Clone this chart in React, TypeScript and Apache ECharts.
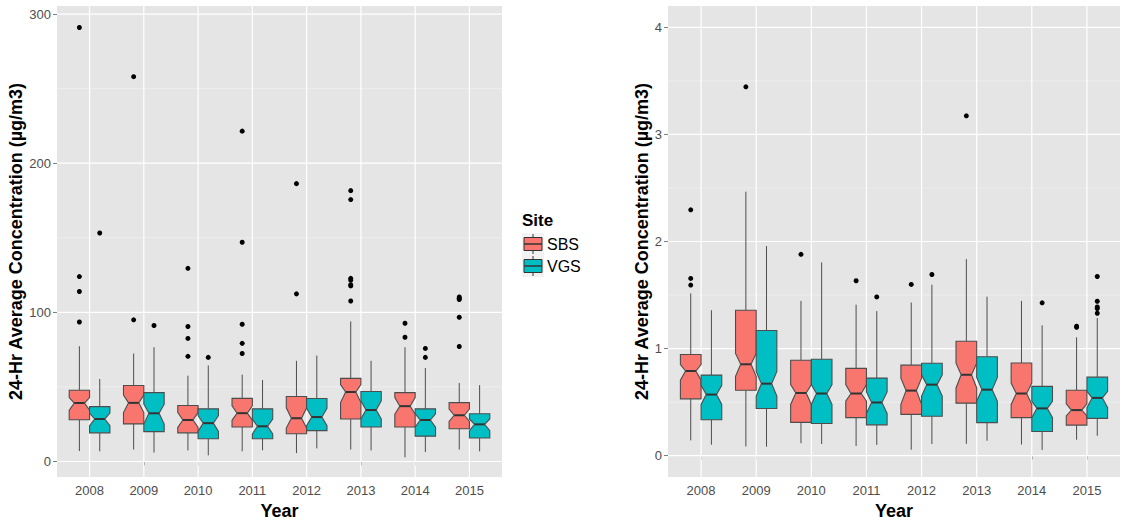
import React, { useEffect, useRef } from "react";
import * as echarts from "echarts";

// ---------- data ----------
const years = ["2008", "2009", "2010", "2011", "2012", "2013", "2014", "2015"];
const sites = ["SBS", "VGS"];
const siteColors = ["#F8766D", "#00BFC4"];

// box stats per year: [lowWhisker, q1, notchLow, median, notchHigh, q3, highWhisker]
const leftSBS = [
  [7, 28, 34.4, 39.2, 42.8, 47.8, 77.3],
  [8, 25.2, 32.8, 39.3, 44.5, 51, 72.4],
  [7.4, 19.2, 22.9, 27.8, 33, 37.5, 57.5],
  [6.8, 23.1, 27.7, 32.4, 37.3, 42.3, 58.2],
  [5.6, 18.6, 22.4, 29, 36, 43.6, 67.5],
  [8, 28.5, 39.5, 46.6, 51.5, 55.7, 93.9],
  [2.8, 23.1, 31.8, 37.1, 42.9, 46.2, 76.6],
  [8, 22, 26.8, 31, 35.2, 39.5, 52.6],
];
const leftVGS = [
  [6.8, 19.2, 24, 28.5, 32.5, 36.8, 55.3],
  [6, 20, 25.1, 32.3, 38.4, 46.2, 76.6],
  [4.1, 15.2, 20.2, 25.7, 30.7, 35.3, 64.4],
  [7.5, 15.2, 18.5, 23.6, 28.4, 35.3, 54.6],
  [8.8, 20.7, 24, 29.8, 35.7, 42.2, 71],
  [7.4, 23.1, 28.5, 34.5, 40.7, 46.9, 67.5],
  [6.3, 17, 23, 27.8, 32, 35.3, 62.7],
  [6.8, 15.7, 20.7, 24.9, 28.5, 32, 51.2],
];
// outliers: [yearIndex, value]
const leftSBSOut = [
  [0, 291], [0, 124], [0, 114], [0, 93.5],
  [1, 258], [1, 95],
  [2, 129.5], [2, 90.5], [2, 82.5], [2, 70.5],
  [3, 221.5], [3, 147], [3, 92], [3, 79.2], [3, 72.4],
  [4, 186.3], [4, 112.4],
  [5, 181.6], [5, 175.6], [5, 122.8], [5, 121.6], [5, 118.5], [5, 117.7], [5, 107.6],
  [6, 92.7], [6, 83.3],
  [7, 110.3], [7, 109.4], [7, 108.6], [7, 96.7], [7, 77.1],
];
const leftVGSOut = [
  [0, 153.2], [1, 91.2], [2, 69.8], [6, 75.8], [6, 69.8],
];

const rightSBS = [
  [0.142, 0.53, 0.705, 0.79, 0.85, 0.945, 1.515],
  [0.085, 0.61, 0.74, 0.853, 0.955, 1.358, 2.465],
  [0.115, 0.31, 0.478, 0.585, 0.663, 0.89, 1.445],
  [0.09, 0.355, 0.508, 0.58, 0.663, 0.815, 1.41],
  [0.055, 0.385, 0.478, 0.607, 0.724, 0.845, 1.43],
  [0.11, 0.49, 0.632, 0.755, 0.863, 1.068, 1.835],
  [0.103, 0.355, 0.478, 0.58, 0.678, 0.865, 1.445],
  [0.148, 0.285, 0.37, 0.425, 0.484, 0.61, 1.105],
];
const rightVGS = [
  [0.102, 0.335, 0.478, 0.57, 0.656, 0.752, 1.358],
  [0.083, 0.44, 0.555, 0.672, 0.786, 1.168, 1.957],
  [0.108, 0.3, 0.478, 0.58, 0.663, 0.9, 1.805],
  [0.1, 0.287, 0.394, 0.496, 0.595, 0.724, 1.35],
  [0.108, 0.367, 0.555, 0.663, 0.755, 0.863, 1.596],
  [0.139, 0.308, 0.508, 0.616, 0.73, 0.924, 1.485],
  [0.052, 0.225, 0.354, 0.441, 0.508, 0.647, 1.217],
  [0.185, 0.348, 0.447, 0.539, 0.601, 0.733, 1.285],
];
const rightSBSOut = [
  [0, 2.296], [0, 1.655], [0, 1.593],
  [1, 3.445],
  [2, 1.88],
  [3, 1.633],
  [4, 1.599],
  [5, 3.174],
  [7, 1.208], [7, 1.199],
];
const rightVGSOut = [
  [3, 1.482],
  [4, 1.692],
  [6, 1.427],
  [7, 1.673], [7, 1.442], [7, 1.388], [7, 1.374], [7, 1.33],
];

// axis ticks
const leftYMajor = [0, 100, 200, 300];
const leftYMinor = [50, 150, 250];
const rightYMajor = [0, 1, 2, 3, 4];
const rightYMinor = [0.5, 1.5, 2.5, 3.5];
const leftYRange = [-10.4, 305.4];
const rightYRange = [-0.2, 4.2];

const yTitle = "24-Hr Average Concentration (µg/m3)";
const FONT = "Liberation Sans, Arial, Helvetica, sans-serif";

// ---------- helpers ----------
const xPositions = years.map((_, i) => i + 1);
const BOX_W = 0.375; // each dodged box width in category units
const OUTLINE = "#4D4D4D";

function gridData(yMajor: number[], yMinor: number[]) {
  return [
    ...yMinor.map((v) => [1, v, 1]),
    ...yMajor.map((v) => [1, v, 0]),
    ...xPositions.map((x) => [x, 0, 2]),
  ];
}

function gridRender(params: any, api: any) {
  const cs = params.coordSys;
  const kind = api.value(2);
  if (kind === 2) {
    const px = api.coord([api.value(0), 0])[0];
    return {
      type: "line",
      shape: { x1: px, y1: cs.y, x2: px, y2: cs.y + cs.height },
      style: { stroke: "#FFFFFF", lineWidth: 1.2 },
      silent: true,
    };
  }
  const py = api.coord([1, api.value(1)])[1];
  return {
    type: "line",
    shape: { x1: cs.x, y1: py, x2: cs.x + cs.width, y2: py },
    style: kind === 0 ? { stroke: "#FFFFFF", lineWidth: 1.2 } : { stroke: "#F2F2F2", lineWidth: 0.7 },
    silent: true,
  };
}

function boxRender(sign: number, fill: string) {
  return (params: any, api: any) => {
    const x = api.value(0);
    const unit = api.size([1, 0])[0];
    const cx = api.coord([x, 0])[0] + (sign * unit * BOX_W) / 2;
    const hw = (unit * BOX_W) / 2;
    const y = (i: number) => api.coord([x, api.value(i)])[1];
    const yl = y(1), yq1 = y(2), ynl = y(3), ym = y(4), ynh = y(5), yq3 = y(6), yh = y(7);
    return {
      type: "group",
      children: [
        { type: "line", shape: { x1: cx, y1: yq3, x2: cx, y2: yh }, style: { stroke: OUTLINE, lineWidth: 1 } },
        { type: "line", shape: { x1: cx, y1: yq1, x2: cx, y2: yl }, style: { stroke: OUTLINE, lineWidth: 1 } },
        {
          type: "polygon",
          shape: {
            points: [
              [cx - hw, yq3], [cx + hw, yq3], [cx + hw, ynh], [cx + hw / 2, ym], [cx + hw, ynl],
              [cx + hw, yq1], [cx - hw, yq1], [cx - hw, ynl], [cx - hw / 2, ym], [cx - hw, ynh],
            ],
          },
          style: { fill, stroke: OUTLINE, lineWidth: 1.1 },
        },
        { type: "line", shape: { x1: cx - hw / 2, y1: ym, x2: cx + hw / 2, y2: ym }, style: { stroke: "#333333", lineWidth: 2 } },
      ],
    };
  };
}

function outRender(sign: number) {
  return (params: any, api: any) => {
    const x = api.value(0);
    const unit = api.size([1, 0])[0];
    const p = api.coord([x, api.value(1)]);
    return {
      type: "circle",
      shape: { cx: p[0] + (sign * unit * BOX_W) / 2, cy: p[1], r: 2.5 },
      style: { fill: "#000000" },
    };
  };
}

function panelSeries(gi: number, yMajor: number[], yMinor: number[], boxes: number[][][], outs: number[][][]) {
  const list: any[] = [
    {
      type: "custom",
      xAxisIndex: gi,
      yAxisIndex: gi,
      renderItem: gridRender,
      data: gridData(yMajor, yMinor),
      encode: { x: 0, y: 1 },
      z: 1,
      silent: true,
    },
  ];
  boxes.forEach((b, si) => {
    const sign = si === 0 ? -1 : 1;
    list.push({
      type: "custom",
      name: sites[si],
      xAxisIndex: gi,
      yAxisIndex: gi,
      renderItem: boxRender(sign, siteColors[si]),
      data: b.map((row, i) => [i + 1, ...row]),
      encode: { x: 0, y: [1, 2, 3, 4, 5, 6, 7] },
      z: 3,
    });
    list.push({
      type: "custom",
      xAxisIndex: gi,
      yAxisIndex: gi,
      renderItem: outRender(sign),
      data: outs[si].map((o) => [o[0] + 1, o[1]]),
      encode: { x: 0, y: 1 },
      z: 4,
    });
  });
  return list;
}

function xAxisCfg(gi: number) {
  return {
    type: "value",
    gridIndex: gi,
    min: 0.4,
    max: 8.6,
    axisLine: { show: false },
    splitLine: { show: false },
    axisTick: { show: true, length: 4, customValues: xPositions, lineStyle: { color: "#7F7F7F", width: 1 } },
    axisLabel: {
      customValues: xPositions,
      formatter: (v: number) => years[Math.round(v) - 1] ?? "",
      color: "#4D4D4D",
      fontSize: 13,
      fontFamily: FONT,
      margin: 7,
    },
    name: "Year",
    nameLocation: "middle",
    nameGap: 25,
    nameTextStyle: { fontSize: 18, fontWeight: "bold", color: "#000000", fontFamily: FONT },
  };
}

function yAxisCfg(gi: number, range: number[], major: number[], gap: number) {
  return {
    type: "value",
    gridIndex: gi,
    min: range[0],
    max: range[1],
    axisLine: { show: false },
    splitLine: { show: false },
    axisTick: { show: true, length: 4, customValues: major, lineStyle: { color: "#7F7F7F", width: 1 } },
    axisLabel: {
      customValues: major,
      color: "#4D4D4D",
      fontSize: 13,
      fontFamily: FONT,
      margin: 6,
    },
    name: yTitle,
    nameLocation: "middle",
    nameGap: gap,
    nameTextStyle: { fontSize: 18, fontWeight: "bold", color: "#000000", fontFamily: FONT },
  };
}

function legendGraphics() {
  const els: any[] = [
    {
      type: "text",
      style: { text: "Site", x: 522, y: 220, fill: "#000", font: `bold 17px ${FONT}`, verticalAlign: "middle" },
    },
  ];
  sites.forEach((s, i) => {
    const y0 = 233 + i * 22;
    els.push(
      { type: "rect", shape: { x: 522, y: y0, width: 22, height: 22 }, style: { fill: "#F2F2F2" } },
      { type: "line", shape: { x1: 533, y1: y0 + 1, x2: 533, y2: y0 + 21 }, style: { stroke: "#333", lineWidth: 1 } },
      { type: "rect", shape: { x: 524, y: y0 + 4.5, width: 18, height: 13 }, style: { fill: siteColors[i], stroke: "#333", lineWidth: 1 } },
      { type: "line", shape: { x1: 524, y1: y0 + 11, x2: 542, y2: y0 + 11 }, style: { stroke: "#333", lineWidth: 1.5 } },
      { type: "text", style: { text: s, x: 547, y: y0 + 11, fill: "#000", font: `16px ${FONT}`, verticalAlign: "middle" } }
    );
  });
  return els;
}

export default function App() {
  const ref = useRef<HTMLDivElement>(null);
  useEffect(() => {
    if (!ref.current) return;
    const chart = echarts.init(ref.current, undefined, { renderer: "svg" });
    chart.setOption({
      animation: false,
      backgroundColor: "#FFFFFF",
      grid: [
        { left: 57, top: 6, width: 445, height: 475, show: true, backgroundColor: "#E5E5E5", borderWidth: 0 },
        { left: 668, top: 6, width: 452, height: 475, show: true, backgroundColor: "#E5E5E5", borderWidth: 0 },
      ],
      xAxis: [xAxisCfg(0), xAxisCfg(1)],
      yAxis: [yAxisCfg(0, leftYRange, leftYMajor, 28), yAxisCfg(1, rightYRange, rightYMajor, 16)],
      series: [
        ...panelSeries(0, leftYMajor, leftYMinor, [leftSBS, leftVGS], [leftSBSOut, leftVGSOut]),
        ...panelSeries(1, rightYMajor, rightYMinor, [rightSBS, rightVGS], [rightSBSOut, rightVGSOut]),
      ],
      graphic: legendGraphics(),
    });
    return () => chart.dispose();
  }, []);
  return <div ref={ref} style={{ position: "absolute", left: 0, top: 0, width: 1121, height: 525 }} />;
}
